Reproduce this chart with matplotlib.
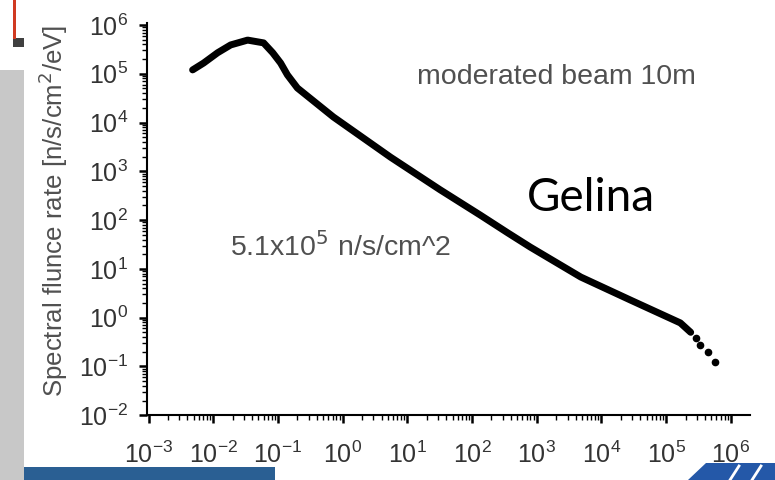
import matplotlib.pyplot as plt
import numpy as np
from matplotlib.ticker import LogLocator, NullFormatter
from matplotlib.patches import Rectangle, Polygon

plt.rcParams['font.family'] = ['Liberation Sans', 'DejaVu Sans']

# neutron energy [eV] and spectral fluence rate [n/s/cm2/eV]
energy = [4.8e-3, 7.1e-3, 1.17e-2, 1.86e-2, 3.4e-2, 6.0e-2, 8.3e-2, 0.11, 0.14, 0.20,
          0.72, 5.5, 32, 135, 355, 794, 4.8e3, 2.8e4, 1.66e5, 2.4e5]
fluence = [1.2e5, 1.66e5, 2.7e5, 3.9e5, 4.9e5, 4.3e5, 2.7e5, 1.66e5, 9.5e4, 5.1e4,
           1.3e4, 1.95e3, 420, 126, 55, 28, 6.8, 2.3, 0.78, 0.50]
# last few points are sparse
tail_energy = [2.9e5, 3.4e5, 4.4e5, 5.75e5]
tail_fluence = [0.39, 0.28, 0.20, 0.123]

fig = plt.figure(figsize=(7.75, 4.8), dpi=100)
ax = fig.add_axes([0.190, 0.135, 0.778, 0.817])

ax.plot(energy, fluence, color='black', lw=5, solid_capstyle='round',
        solid_joinstyle='round')
ax.plot(tail_energy, tail_fluence, 'o', color='black', ms=4.5)

ax.set_xscale('log')
ax.set_yscale('log')
ax.set_xlim(10**-3.02, 10**6.3)
ax.set_ylim(1e-2, 10**6.04)

for axis in (ax.xaxis, ax.yaxis):
    axis.set_major_locator(LogLocator(base=10, numticks=20))
    axis.set_minor_locator(LogLocator(base=10, subs=np.arange(2, 10), numticks=20))
    axis.set_minor_formatter(NullFormatter())

ax.spines['top'].set_visible(False)
ax.spines['right'].set_visible(False)
for s in ('left', 'bottom'):
    ax.spines[s].set_linewidth(1.5)
ax.tick_params(which='major', length=6, width=1.8, labelsize=18,
               labelcolor='#333333')
ax.tick_params(which='minor', length=3.5, width=1.0)
ax.tick_params(axis='y', which='major', pad=8)
ax.tick_params(axis='x', which='major', pad=13)

ax.set_ylabel('Spectral flunce rate [n/s/cm$^2$/eV]', fontsize=18.6, color='#505050')
ax.yaxis.set_label_coords(-0.128, 0.52)

ax.text(2.0e3, 8.5e4, 'moderated beam 10m', fontsize=20.5, color='#505050',
        ha='center', va='center')
ax.text(0.93, 28, '5.1x10$^{5}$ n/s/cm^2', fontsize=20.5, color='#505050',
        ha='center', va='center')
ax.text(6.8e3, 282, 'Gelina', fontsize=33, color='black', family=['Lato', 'DejaVu Sans'],
        ha='center', va='center')

# slide decorations around the plot
fig.add_artist(Rectangle((0, 0), 24 / 775, 410 / 480, transform=fig.transFigure,
                         color='#c8c8c8', lw=0))
fig.add_artist(Rectangle((24 / 775, 0), 251 / 775, 13 / 480, transform=fig.transFigure,
                         color='#2a5f93', lw=0))
fig.add_artist(Rectangle((13 / 775, 1 - 47 / 480), 11 / 775, 9 / 480,
                         transform=fig.transFigure, color='#404040', lw=0))
fig.add_artist(Rectangle((13 / 775, 1 - 39 / 480), 3 / 775, 39 / 480,
                         transform=fig.transFigure, color='#d03a22', lw=0))
fig.add_artist(Polygon([(688 / 775, 0), (706 / 775, 17 / 480), (1, 17 / 480), (1, 0)],
                       closed=True, transform=fig.transFigure, color='#2458a8', lw=0))
for x0 in (730, 752):
    fig.add_artist(plt.Line2D([x0 / 775, (x0 + 9) / 775], [0, 14 / 480],
                              transform=fig.transFigure, color='white', lw=2))

fig.savefig('out.png', dpi=100)
